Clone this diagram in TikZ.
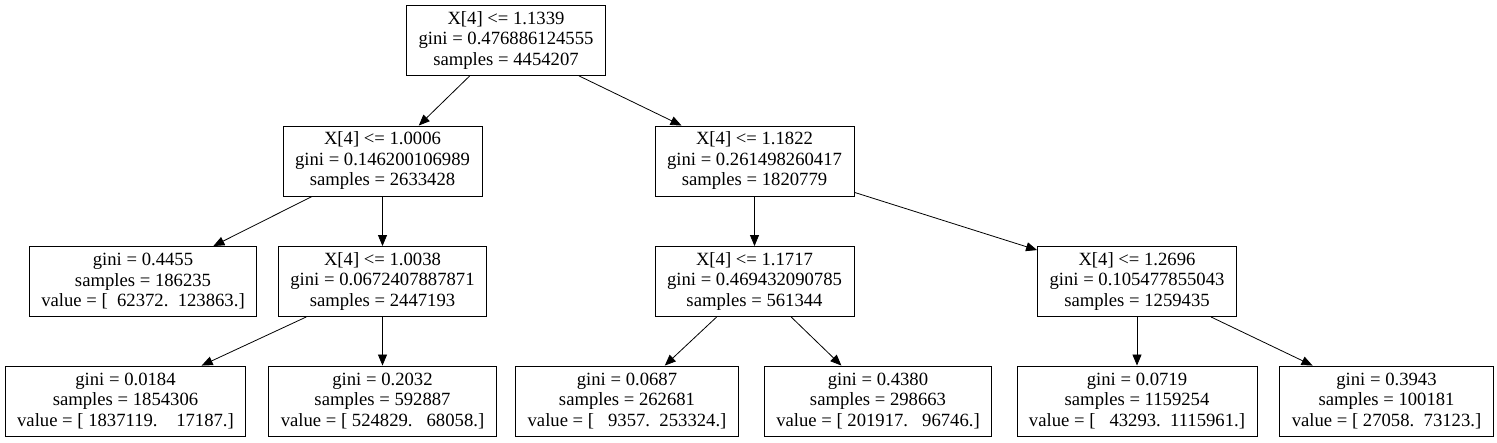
\documentclass[tikz,border=0pt]{standalone}
\usepackage{fontspec}
\setmainfont{Liberation Serif}
\usetikzlibrary{arrows.meta}

\begin{document}
\begin{tikzpicture}[x=1pt,y=-1pt,
    box/.style={draw,line width=0.9pt,align=center,inner xsep=12pt,
        minimum height=70pt,font={\fontsize{18.67}{20.5}\selectfont}},
    edge/.style={-{Triangle[length=11pt,width=9pt]},line width=0.8pt}]
\useasboundingbox (0,0) rectangle (1497,443);
\node[box] (root) at (506,40.5) {X[4] <= 1.1339\\gini = 0.476886124555\\samples = 4454207};

\node[box] (l) at (382.5,161) {X[4] <= 1.0006\\gini = 0.146200106989\\samples = 2633428};
\node[box] (r) at (754.5,161) {X[4] <= 1.1822\\gini = 0.261498260417\\samples = 1820779};

\node[box] (ll) at (143,281.5) {gini = 0.4455\\samples = 186235\\value = [\ \ 62372.\ \ 123863.]};
\node[box] (lr) at (382.5,281.5) {X[4] <= 1.0038\\gini = 0.0672407887871\\samples = 2447193};
\node[box] (rl) at (754.5,281.5) {X[4] <= 1.1717\\gini = 0.469432090785\\samples = 561344};
\node[box] (rr) at (1137,281.5) {X[4] <= 1.2696\\gini = 0.105477855043\\samples = 1259435};

\node[box] (lrl) at (125.5,401) {gini = 0.0184\\samples = 1854306\\value = [\ 1837119.\ \ \ \ 17187.]};
\node[box] (lrr) at (382.5,401) {gini = 0.2032\\samples = 592887\\value = [\ 524829.\ \ \ 68058.]};
\node[box] (rll) at (627,401) {gini = 0.0687\\samples = 262681\\value = [\ \ \ 9357.\ \ 253324.]};
\node[box] (rlr) at (878,401) {gini = 0.4380\\samples = 298663\\value = [\ 201917.\ \ \ 96746.]};
\node[box] (rrl) at (1137,401) {gini = 0.0719\\samples = 1159254\\value = [\ \ \ 43293.\ \ 1115961.]};
\node[box] (rrr) at (1386.5,401) {gini = 0.3943\\samples = 100181\\value = [\ 27058.\ \ 73123.]};

\draw[edge] (root) -- (l);
\draw[edge] (root) -- (r);
\draw[edge] (l) -- (ll);
\draw[edge] (l) -- (lr);
\draw[edge] (r) -- (rl);
\draw[edge] (r) -- (rr);
\draw[edge] (lr) -- (lrl);
\draw[edge] (lr) -- (lrr);
\draw[edge] (rl) -- (rll);
\draw[edge] (rl) -- (rlr);
\draw[edge] (rr) -- (rrl);
\draw[edge] (rr) -- (rrr);
\end{tikzpicture}
\end{document}
